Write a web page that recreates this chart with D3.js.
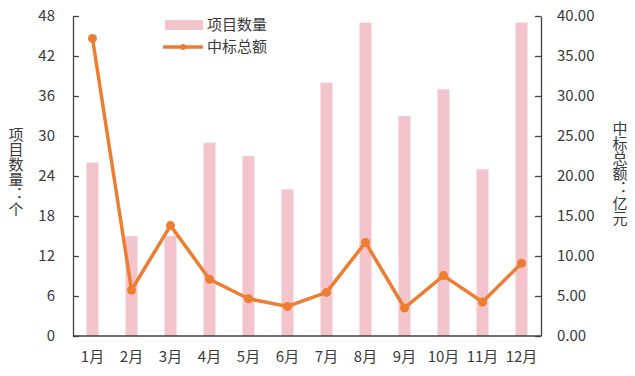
<!DOCTYPE html>
<html lang="zh">
<head>
<meta charset="utf-8">
<title>项目数量与中标总额</title>
<script src="https://d3js.org/d3.v7.min.js"></script>
<style>
  body { margin: 0; background: #fff; }
  svg text { font-family: "Noto Sans CJK SC", "Noto Sans", sans-serif; fill: #3a3a3a; }
  .axis path, .axis line { stroke: #404040; stroke-width: 1.3px; }
  .axis text { font-size: 15px; }
</style>
</head>
<body>
<script>
const months = ["1月","2月","3月","4月","5月","6月","7月","8月","9月","10月","11月","12月"];
const projectCount = [26, 15, 15, 29, 27, 22, 38, 47, 33, 37, 25, 47];
const bidAmount = [37.2, 5.75, 13.8, 7.1, 4.65, 3.7, 5.45, 11.7, 3.5, 7.55, 4.25, 9.1];
const leftTicks = [0, 6, 12, 18, 24, 30, 36, 42, 48];
const rightTicks = [0, 5, 10, 15, 20, 25, 30, 35, 40];

const w = 635, h = 376;
const margin = {left: 73, right: 94, top: 16, bottom: 40};

const svg = d3.select("body").append("svg")
  .attr("width", w).attr("height", h);

const x = d3.scaleBand()
  .domain(months)
  .range([margin.left, w - margin.right]);

const yL = d3.scaleLinear().domain([0, 48]).range([h - margin.bottom, margin.top]);
const yR = d3.scaleLinear().domain([0, 40]).range([h - margin.bottom, margin.top]);

// bars
svg.append("g").selectAll("rect")
  .data(projectCount)
  .join("rect")
  .attr("x", (d, i) => x(months[i]) + x.bandwidth() / 2 - 6)
  .attr("width", 12)
  .attr("y", d => yL(d))
  .attr("height", d => yL(0) - yL(d))
  .attr("fill", "#F4C4CC");

// axes
svg.append("g").attr("class", "axis")
  .attr("transform", `translate(${margin.left},0)`)
  .call(d3.axisLeft(yL).tickValues(leftTicks).tickSizeInner(-6).tickSizeOuter(0).tickPadding(18));

svg.append("g").attr("class", "axis")
  .attr("transform", `translate(${w - margin.right},0)`)
  .call(d3.axisRight(yR).tickValues(rightTicks).tickFormat(d3.format(".2f")).tickSizeInner(-6).tickSizeOuter(0).tickPadding(16));

svg.append("g").attr("class", "axis")
  .attr("transform", `translate(0,${h - margin.bottom})`)
  .call(d3.axisBottom(x).tickSize(0).tickPadding(15))
  .call(g => g.select(".domain").attr("d", `M${margin.left},0H${w - margin.right}`));

// line
const line = d3.line()
  .x((d, i) => x(months[i]) + x.bandwidth() / 2)
  .y(d => yR(d));

svg.append("path")
  .datum(bidAmount)
  .attr("d", line)
  .attr("fill", "none")
  .attr("stroke", "#ED7D31")
  .attr("stroke-width", 3.5)
  .attr("stroke-linejoin", "round");

svg.append("g").selectAll("circle")
  .data(bidAmount)
  .join("circle")
  .attr("cx", (d, i) => x(months[i]) + x.bandwidth() / 2)
  .attr("cy", d => yR(d))
  .attr("r", 4.5)
  .attr("fill", "#ED7D31");

// axis titles (vertical)
svg.append("text")
  .attr("x", 16).attr("y", 127)
  .style("writing-mode", "vertical-rl")
  .style("text-orientation", "upright")
  .attr("font-size", 15)
  .text("项目数量：个");

svg.append("text")
  .attr("x", 620).attr("y", 121)
  .style("writing-mode", "vertical-rl")
  .style("text-orientation", "upright")
  .attr("font-size", 15)
  .text("中标总额：亿元");

// legend
const lg = svg.append("g");
lg.append("rect").attr("x", 165).attr("y", 20).attr("width", 38).attr("height", 10).attr("fill", "#F4C4CC");
lg.append("text").attr("x", 207).attr("y", 25).attr("dy", "0.35em").attr("font-size", 15).text("项目数量");
lg.append("line").attr("x1", 163).attr("x2", 203).attr("y1", 47).attr("y2", 47)
  .attr("stroke", "#ED7D31").attr("stroke-width", 3.5);
lg.append("circle").attr("cx", 183).attr("cy", 47).attr("r", 3).attr("fill", "#ED7D31");
lg.append("text").attr("x", 207).attr("y", 47).attr("dy", "0.35em").attr("font-size", 15).text("中标总额");
</script>
</body>
</html>
